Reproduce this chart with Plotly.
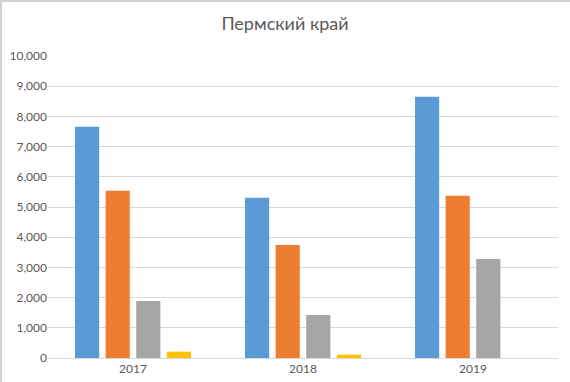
import plotly.graph_objects as go

categories = ["2017", "2018", "2019"]
series_1 = [7660, 5310, 8650]
series_2 = [5540, 3740, 5370]
series_3 = [1890, 1420, 3280]
series_4 = [210, 110, None]
y_ticks = [0, 1000, 2000, 3000, 4000, 5000, 6000, 7000, 8000, 9000, 10000]

colors = ["#5B9BD5", "#ED7D31", "#A5A5A5", "#FFC000"]

fig = go.Figure()
for i, vals in enumerate([series_1, series_2, series_3, series_4]):
    marker = dict(color=colors[i], line=dict(width=0))
    if i == 2:
        marker["pattern"] = dict(shape=".", size=3, solidity=0.12,
                                 fgcolor="#adadad", fillmode="overlay")
    fig.add_trace(go.Bar(x=categories, y=vals, marker=marker,
                         showlegend=False, hoverinfo="skip"))

fig.update_layout(
    width=570, height=382,
    margin=dict(l=48, r=12, t=56, b=24, autoexpand=False),
    paper_bgcolor="white", plot_bgcolor="white",
    font=dict(family="Lato, Carlito, sans-serif", color="#595959", size=12),
    title=dict(text="Пермский край", x=0.5, xanchor="center", y=0.937,
               yanchor="middle", automargin=False,
               font=dict(size=18, color="#595959")),
    barmode="group", bargap=0.28, bargroupgap=0.21,
    xaxis=dict(showgrid=False, showline=True, linecolor="#d9d9d9", linewidth=1,
               ticks="", automargin=False, tickfont=dict(size=12, color="#595959")),
    yaxis=dict(range=[0, 10000], tickvals=y_ticks, tickformat=",d",
               showgrid=True, gridcolor="#d9d9d9", gridwidth=1, automargin=False,
               zeroline=False, showline=False, ticks="",
               tickfont=dict(size=12, color="#595959")),
    shapes=[
        dict(type="line", xref="paper", yref="paper", layer="above",
             x0=-48/510, x1=522/510, y0=357/302, y1=357/302,
             line=dict(color="#d0d0d0", width=2)),
        dict(type="line", xref="paper", yref="paper", layer="above",
             x0=-47/510, x1=-47/510, y0=-24/302, y1=358/302,
             line=dict(color="#d0d0d0", width=2)),
    ],
)

fig.write_html(
    "out.html",
    config={"displayModeBar": False, "staticPlot": True},
    post_script="document.body.style.margin='0';document.body.style.overflow='hidden';",
)
